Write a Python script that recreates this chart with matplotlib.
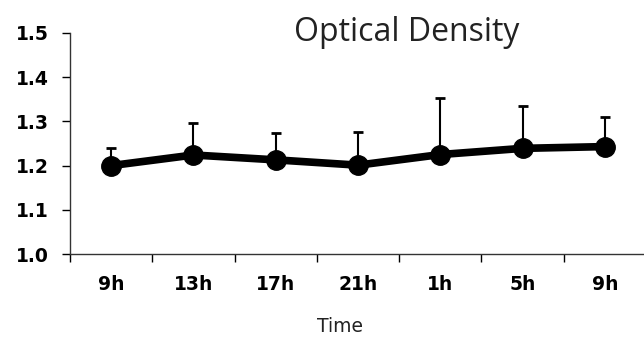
import matplotlib
matplotlib.use("Agg")
import matplotlib.pyplot as plt
import numpy as np

# данные
times = ["9h", "13h", "17h", "21h", "1h", "5h", "9h"]
od_mean = [1.200, 1.224, 1.213, 1.201, 1.225, 1.239, 1.243]
od_top = [1.240, 1.297, 1.274, 1.277, 1.354, 1.335, 1.309]   # верх планки ошибки
y_ticks = [1.0, 1.1, 1.2, 1.3, 1.4, 1.5]

x = np.arange(len(times))
err_up = np.array(od_top) - np.array(od_mean)

fig = plt.figure(figsize=(6.44, 3.40), dpi=100)
ax = fig.add_axes([70 / 644, 1 - 254 / 340, 576 / 644, 221 / 340])

ax.errorbar(x, od_mean, yerr=[np.zeros_like(err_up), err_up], fmt="none",
            ecolor="black", elinewidth=1.5, capsize=3.8, capthick=2, zorder=2)
ax.plot(x, od_mean, color="black", linewidth=5.5, marker="o", markersize=14, zorder=3)

ax.set_xlim(-0.5, len(times) - 0.5)
ax.set_ylim(1.0, 1.5)
ax.set_yticks(y_ticks)
ax.set_yticklabels([f"{v:.1f}" for v in y_ticks],
                   fontsize=13.5, fontweight="bold", family="DejaVu Sans")
ax.set_xticks(x)
ax.set_xticklabels(times, fontsize=13.5, fontweight="bold", family="DejaVu Sans")
ax.tick_params(axis="x", which="major", length=0, pad=15)
ax.set_xticks(np.arange(-0.5, len(times) - 0.4, 1), minor=True)
ax.tick_params(axis="x", which="minor", length=6, direction="out", width=1)
ax.tick_params(axis="y", length=6, direction="out", width=1, pad=9)

for s in ("top", "right"):
    ax.spines[s].set_visible(False)
for s in ("left", "bottom"):
    ax.spines[s].set_linewidth(1)
    ax.spines[s].set_color("#333333")

fig.text(407 / 644, 1 - 41 / 340, "Optical Density", ha="center", va="baseline",
         fontsize=23, family="Open Sans", color="#222222")
fig.text(340 / 644, 1 - 327 / 340, "Time", ha="center", va="center",
         fontsize=13.5, family="DejaVu Sans", color="#222222")

fig.savefig("out.png", dpi=100)
